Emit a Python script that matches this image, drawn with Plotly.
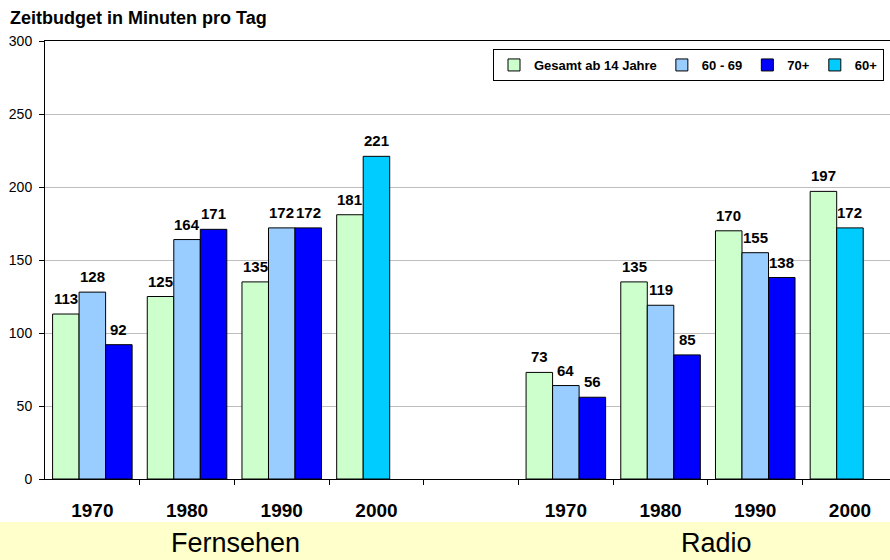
import plotly.graph_objects as go

# ---- data ----
categories = ["1970", "1980", "1990", "2000", "", "1970", "1980", "1990", "2000"]
gesamt = [113, 125, 135, 181, None, 73, 135, 170, 197]
age_60_69 = [128, 164, 172, None, None, 64, 119, 155, None]
age_70plus = [92, 171, 172, None, None, 56, 85, 138, None]
age_60plus = [None, None, None, 221, None, None, None, None, 172]
series_names = ["Gesamt ab 14 Jahre", "60 - 69", "70+", "60+"]
series_colors = ["#CCFFCC", "#99CCFF", "#0000FF", "#00CCFF"]
group_labels = ["Fernsehen", "Radio"]
y_ticks = [0, 50, 100, 150, 200, 250, 300]

FONT = "Liberation Sans, Arial, sans-serif"
x_idx = list(range(len(categories)))
bw = 0.28
offsets = [-1.5 * bw, -0.5 * bw, 0.5 * bw, -0.5 * bw]
series_values = [gesamt, age_60_69, age_70plus, age_60plus]

fig = go.Figure()
value_labels = []
for name, vals, col, off in zip(series_names, series_values, series_colors, offsets):
    fig.add_trace(go.Bar(
        x=x_idx, y=vals, name=name,
        width=bw, offset=off,
        marker=dict(color=col, line=dict(color="black", width=1)),
        hoverinfo="x+y+name",
    ))
    for xi, v in zip(x_idx, vals):
        if v is None:
            continue
        value_labels.append(dict(
            x=xi + off + bw / 2, y=v, xref="x", yref="y", text=str(v),
            showarrow=False, xanchor="center", yanchor="bottom", yshift=5,
            font=dict(family=FONT, size=15, color="black", weight="bold")))

W, H = 890, 560
ml, mr, mt, mb = 45, 0, 41, 81
pw = W - ml - mr
ph = H - mt - mb
slot_px = 94.7
x_hi = -0.5 + pw / slot_px

tickvals = [i for i, c in enumerate(categories) if c]
ticktext = [c for c in categories if c]
boundaries = [i + 0.5 for i in range(len(categories) - 1)]

group_annots = [
    dict(text=group_labels[0], xref="paper", yref="paper",
         x=(235 - ml) / pw, y=-(543 - (H - mb)) / ph,
         xanchor="center", yanchor="middle", showarrow=False,
         font=dict(family=FONT, size=27, color="black")),
    dict(text=group_labels[1], xref="paper", yref="paper",
         x=(716.5 - ml) / pw, y=-(543 - (H - mb)) / ph,
         xanchor="center", yanchor="middle", showarrow=False,
         font=dict(family=FONT, size=27, color="black")),
]

fig.update_layout(
    width=W, height=H,
    margin=dict(l=ml, r=mr, t=mt, b=mb, autoexpand=False),
    paper_bgcolor="white", plot_bgcolor="white",
    barmode="overlay",
    font=dict(family=FONT, color="black"),
    title=dict(text="Zeitbudget in Minuten pro Tag", xref="container", yref="container",
               x=10 / W, xanchor="left", y=1 - 18 / H, yanchor="middle",
               font=dict(family=FONT, size=18, color="black", weight="bold")),
    legend=dict(orientation="h", xref="paper", yref="paper",
                x=(884 - ml) / pw, xanchor="right", y=(H - mb - 65) / ph, yanchor="middle",
                bgcolor="white", bordercolor="black", borderwidth=1,
                font=dict(family=FONT, size=13, color="black", weight="bold"),
                itemwidth=30, tracegroupgap=0,
                itemclick=False, itemdoubleclick=False),
    xaxis=dict(range=[-0.5, x_hi], tickvals=tickvals, ticktext=ticktext,
               ticks="", showgrid=False, zeroline=False, automargin=False,
               showline=True, linecolor="black", linewidth=1, mirror=True,
               tickfont=dict(family=FONT, size=19, color="black", weight="bold"),
               ticklabelstandoff=14,
               minor=dict(tickvals=boundaries, ticks="outside", ticklen=5,
                          tickcolor="black", tickwidth=1, showgrid=False)),
    yaxis=dict(range=[0, 300], tickvals=y_ticks, ticks="outside", ticklen=5,
               tickcolor="black", showline=True, linecolor="black", linewidth=1,
               showgrid=True, gridcolor="#BFBFBF", gridwidth=1, zeroline=False,
               automargin=False,
               tickfont=dict(family=FONT, size=14, color="black"),
               ticklabelstandoff=4),
    shapes=[dict(type="rect", xref="paper", yref="paper", layer="below",
                 x0=-ml / pw, x1=1 + 5 / pw,
                 y0=-(mb + 5) / ph, y1=-(522 - (H - mb)) / ph,
                 fillcolor="#FFFFCC", line=dict(width=0))],
    annotations=value_labels + group_annots,
)

fig.write_html("out.html",
               config={"displayModeBar": False},
               post_script="document.body.style.margin='0px';document.body.style.overflow='hidden';")
